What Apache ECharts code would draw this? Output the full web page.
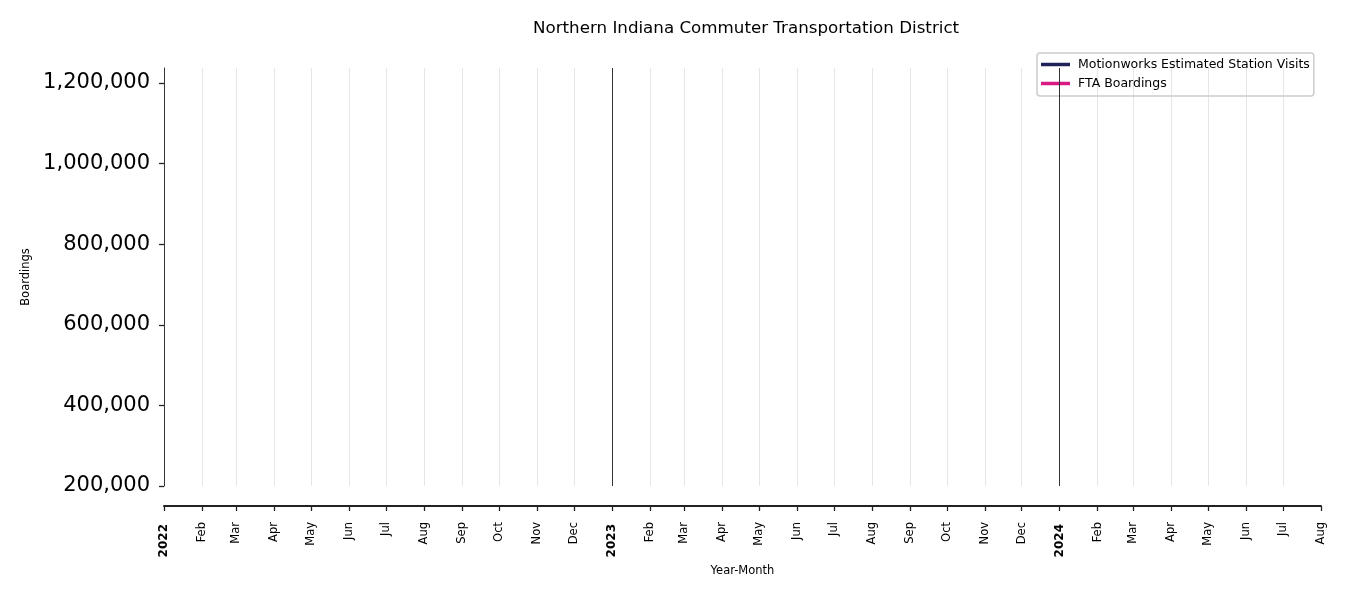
<!DOCTYPE html>
<html>
<head>
<meta charset="utf-8">
<script src="https://cdn.jsdelivr.net/npm/echarts@6/dist/echarts.min.js"></script>
<style>html,body{margin:0;padding:0;background:#fff}#c{width:1350px;height:600px}</style>
</head>
<body>
<div id="c"></div>
<script>
// ---- data ----
var chartTitle = 'Northern Indiana Commuter Transportation District';
var seriesNames = ['Motionworks Estimated Station Visits', 'FTA Boardings'];
var motionworksVisits = [];   // no points drawn in the reference
var ftaBoardings = [];        // no points drawn in the reference
var tickDates = ['2022-01-01','2022-02-01','2022-03-01','2022-04-01','2022-05-01','2022-06-01','2022-07-01','2022-08-01','2022-09-01','2022-10-01','2022-11-01','2022-12-01',
                 '2023-01-01','2023-02-01','2023-03-01','2023-04-01','2023-05-01','2023-06-01','2023-07-01','2023-08-01','2023-09-01','2023-10-01','2023-11-01','2023-12-01',
                 '2024-01-01','2024-02-01','2024-03-01','2024-04-01','2024-05-01','2024-06-01','2024-07-01','2024-08-01'];
var tickLabels = ['2022','Feb','Mar','Apr','May','Jun','Jul','Aug','Sep','Oct','Nov','Dec',
                  '2023','Feb','Mar','Apr','May','Jun','Jul','Aug','Sep','Oct','Nov','Dec',
                  '2024','Feb','Mar','Apr','May','Jun','Jul','Aug'];
var yearLines = ['2023-01-01','2024-01-01'];
var yTicks = [200000, 400000, 600000, 800000, 1000000, 1200000];
var yMin = 200000, yMax = 1237000;
var xMin = '2022-01-01', xMax = '2024-08-01';

// ---- build ----
function ts(s){ var p = s.split('-'); return Date.UTC(+p[0], +p[1] - 1, +p[2]); }
var tickTs = tickDates.map(ts);
var labelMap = {};
tickTs.forEach(function(t,i){ labelMap[t] = tickLabels[i]; });

var FONT = 'DejaVu Sans';
var chart = echarts.init(document.getElementById('c'));
chart.setOption({
  animation: false,
  backgroundColor: '#fff',
  textStyle: {fontFamily: FONT},
  title: {
    text: chartTitle, left: 528, top: 15,
    textStyle: {fontFamily: FONT, fontSize: 16.7, fontWeight: 'normal', color: '#000'}
  },
  legend: {
    orient: 'vertical', left: 1037, top: 53,
    padding: [5, 4, 6, 4], itemGap: 6,
    borderColor: '#cccccc', borderWidth: 1.5, borderRadius: 3,
    icon: 'rect', itemWidth: 29, itemHeight: 3.5,
    textStyle: {fontFamily: FONT, fontSize: 12.5, color: '#000', padding: [0, 0, 0, 3]},
    data: seriesNames
  },
  grid: {left: 164, right: 29, top: 68, bottom: 114, containLabel: false},
  xAxis: {
    type: 'value', min: ts(xMin), max: ts(xMax), offset: 20,
    name: 'Year-Month', nameLocation: 'middle', nameGap: 59,
    nameTextStyle: {fontFamily: FONT, fontSize: 11.5, color: '#000'},
    axisLine: {show: true, lineStyle: {color: '#222', width: 2}},
    axisTick: {show: true, customValues: tickTs, length: 5, lineStyle: {color: '#222', width: 1.3}},
    axisLabel: {
      customValues: tickTs, rotate: 90, fontSize: 11.5, color: '#000', margin: 16,
      fontFamily: FONT, showMinLabel: true, showMaxLabel: true, hideOverlap: false,
      formatter: function(v){
        var l = labelMap[v];
        if (l === undefined) return '';
        return /^\d{4}$/.test(l) ? '{b|' + l + '}' : l;
      },
      rich: {b: {fontWeight: 'bold', fontSize: 12, fontFamily: FONT, color: '#000', padding: [0, 2, 0, 0]}}
    },
    splitLine: {show: true, showMinLine: false, showMaxLine: false, lineStyle: {color: '#e6e6e6', width: 1}}
  },
  yAxis: {
    type: 'value', min: yMin, max: yMax,
    name: 'Boardings', nameLocation: 'middle', nameGap: 126,
    nameTextStyle: {fontFamily: FONT, fontSize: 11.5, color: '#000'},
    axisLine: {show: true, lineStyle: {color: '#333', width: 1}},
    axisTick: {show: true, customValues: yTicks, length: 5, lineStyle: {color: '#222', width: 1.3}},
    axisLabel: {
      customValues: yTicks, fontSize: 21, color: '#000', margin: 14, fontFamily: FONT,
      lineHeight: 21, padding: [4, 0, 0, 0],
      formatter: function(v){ return Number(v).toLocaleString('en-US'); }
    },
    splitLine: {show: false}
  },
  series: [
    {
      name: seriesNames[0], type: 'line', data: motionworksVisits,
      color: '#20205a', lineStyle: {width: 3}, showSymbol: false,
      markLine: {
        silent: true, symbol: 'none', animation: false,
        label: {show: false},
        lineStyle: {color: '#333', width: 1, type: 'solid'},
        data: yearLines.map(function(d){ return {xAxis: ts(d)}; })
      }
    },
    {
      name: seriesNames[1], type: 'line', data: ftaBoardings,
      color: '#d81b82', lineStyle: {width: 3}, showSymbol: false
    }
  ]
});
</script>
</body>
</html>
